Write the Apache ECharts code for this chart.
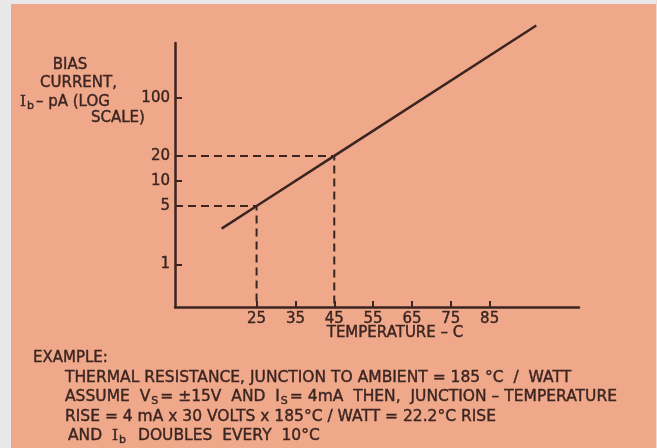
<!DOCTYPE html>
<html><head><meta charset="utf-8">
<script src="https://cdn.jsdelivr.net/npm/echarts@6/dist/echarts.min.js"></script>
<style>html,body{margin:0;padding:0;background:#e9e8e8}#chart{width:657px;height:448px}</style>
</head><body><div id="chart"></div>
<script>
// Temperature axis (°C)
const tempRange = [4, 108];
const tempTicks = [25, 35, 45, 55, 65, 75, 85];
// Bias current axis (pA, log scale)
const biasRange = [0.307, 453];
const biasTicks = [1, 5, 10, 20, 100];
// Bias current curve: doubles every 10 °C
const curveTemp = [16, 25, 45, 97];
const curveBias = [2.68, 5, 20, 735];
// Worked example read-off points
const guideTemp = [25, 45];
const guideBias = [5, 20];

const INK = '#3b2521';
const PAPER = '#f0a88b';
const FONT = '"DejaVu Sans", sans-serif';
const SERIF = '"DejaVu Serif", serif';

const chart = echarts.init(document.getElementById('chart'), null, { renderer: 'canvas' });

const curve = curveTemp.map((t, i) => [t, curveBias[i]]);
const guides = guideTemp.map((t, i) => ({
  type: 'line',
  symbol: 'none',
  silent: true,
  data: [[tempRange[0], guideBias[i]], [t, guideBias[i]], [t, biasRange[0]]],
  lineStyle: { color: INK, width: 2, type: [8, 5] },
  z: 3
}));

// rich text tokens; a thin stroke gives the lettering its pen weight
function tok(size, family, extra) {
  return Object.assign({ fontSize: size, fontFamily: family, fill: INK, stroke: INK, lineWidth: 0.4 }, extra || {});
}
function richSet(size) {
  return {
    n: tok(size, FONT),
    i: tok(size, SERIF),
    s: tok(Math.round(size * 0.72), FONT, { padding: [8, 2, 0, 1] })
  };
}
function txt(x, y, text, size, align) {
  return {
    type: 'text', x, y, silent: true,
    style: {
      text, rich: richSet(size), fill: INK,
      font: size + 'px ' + FONT,
      textAlign: align || 'left', textVerticalAlign: 'middle'
    }
  };
}
const labelStyle = { color: INK, fontSize: 15, fontFamily: FONT, textBorderColor: INK, textBorderWidth: 0.4, margin: 5 };

chart.setOption({
  animation: false,
  backgroundColor: PAPER,
  grid: { left: 175, right: 78, top: 43, bottom: 141 },
  xAxis: {
    type: 'value', min: tempRange[0], max: tempRange[1],
    axisLine: { onZero: false, lineStyle: { color: INK, width: 2.5 } },
    axisTick: { inside: true, length: 6, customValues: tempTicks, lineStyle: { color: INK, width: 2 } },
    axisLabel: Object.assign({ customValues: tempTicks }, labelStyle),
    splitLine: { show: false }
  },
  yAxis: {
    type: 'log', min: biasRange[0], max: biasRange[1],
    axisLine: { show: true, onZero: false, lineStyle: { color: INK, width: 2.5 } },
    axisTick: { show: true, inside: true, length: 7, customValues: biasTicks, lineStyle: { color: INK, width: 2 } },
    axisLabel: Object.assign({ customValues: biasTicks }, labelStyle),
    splitLine: { show: false }
  },
  series: [
    {
      type: 'line', symbol: 'none', silent: true, clip: false,
      data: curve,
      lineStyle: { color: INK, width: 2.5 }, z: 4
    },
    ...guides
  ],
  graphic: [
    { type: 'rect', silent: true, shape: { x: 0, y: 0, width: 11, height: 448 }, style: { fill: '#e9e8e8' } },
    { type: 'rect', silent: true, shape: { x: 0, y: 0, width: 657, height: 4 }, style: { fill: '#e9e8e8' } },
    { type: 'rect', silent: true, shape: { x: 656, y: 0, width: 1, height: 448 }, style: { fill: '#f3d6cc' } },
    txt(70, 65, '{n|BIAS}', 15, 'center'),
    txt(40, 83, '{n|CURRENT,}', 15),
    txt(20, 102, '{i|I}{s|b}{n|– pA (LOG}', 15),
    txt(91, 118, '{n|SCALE)}', 15),
    txt(395, 333, '{n|TEMPERATURE – C}', 15, 'center'),
    txt(33, 358, '{n|EXAMPLE:}', 15),
    txt(65, 378, '{n|THERMAL RESISTANCE, JUNCTION TO AMBIENT = 185 °C  /  WATT}', 15.5),
    txt(65, 397, '{n|ASSUME  V}{s|S}{n|= ±15V  AND  I}{s|S}{n|= 4mA  THEN,  JUNCTION – TEMPERATURE}', 15.5),
    txt(65, 417, '{n|RISE = 4 mA x 30 VOLTS x 185°C / WATT = 22.2°C RISE}', 15.5),
    txt(68, 436, '{n|AND  }{i|I}{s|b}{n|  DOUBLES  EVERY  10°C}', 15.5)
  ]
});
</script>
</body></html>
